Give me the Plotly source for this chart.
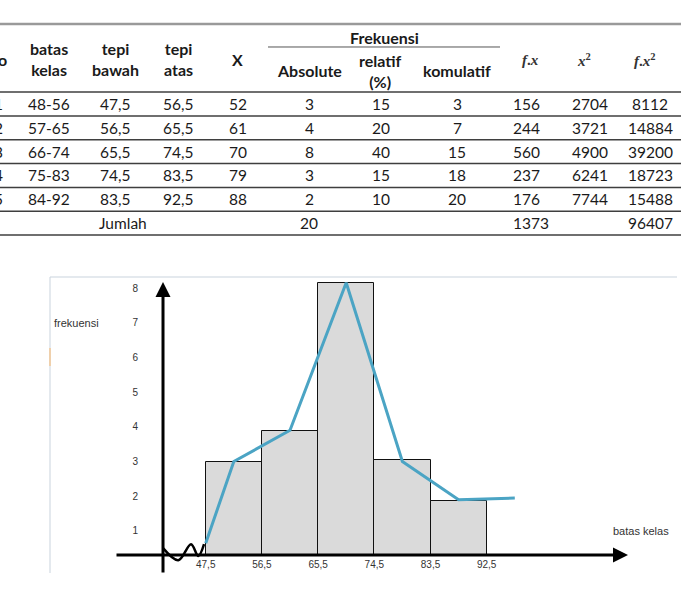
import plotly.graph_objects as go

# ---------------- table data ----------------
no = [1, 2, 3, 4, 5]
batas_kelas = ["48-56", "57-65", "66-74", "75-83", "84-92"]
tepi_bawah = [47.5, 56.5, 65.5, 74.5, 83.5]
tepi_atas = [56.5, 65.5, 74.5, 83.5, 92.5]
nilai_x = [52, 61, 70, 79, 88]
f_absolute = [3, 4, 8, 3, 2]
f_relatif = [15, 20, 40, 15, 10]
f_komulatif = [3, 7, 15, 18, 20]
f_x = [156, 244, 560, 237, 176]
x_kuadrat = [2704, 3721, 4900, 6241, 7744]
f_x_kuadrat = [8112, 14884, 39200, 18723, 15488]
jumlah_label = "Jumlah"
jumlah_absolute = 20
jumlah_fx = 1373
jumlah_fx2 = 96407

# ---------------- histogram / polygon as drawn ----------------
hist_heights = [3.0, 3.88, 8.14, 3.05, 1.86]
poly_x = [47.5, 52, 61, 70, 79, 88, 97]
poly_y = [0.65, 3.0, 3.9, 8.15, 3.0, 1.9, 1.95]
y_tick_vals = [1, 2, 3, 4, 5, 6, 7, 8]
break_x = [40.71, 43.11, 45.15, 46.31, 47.23]
break_y = [0.50, 0.16, 0.62, 0.28, 0.62]


def koma(v):
    return ("%g" % v).replace(".", ",")


W, H = 690, 601
TXT = "#1a1a1a"
FONT = "Lato"
MATH = "Liberation Serif"

annotations = []
shapes = []


def cell(x, k, text, bold=False, size=15.5, xanchor="center", family=FONT, color=TXT):
    if bold:
        text = "<b>" + text + "</b>"
    annotations.append(dict(xref="x2", yref="y2", x=x, y=k, text=text, showarrow=False,
                            xanchor=xanchor, yanchor="middle",
                            font=dict(family=family, size=size, color=color)))


# data columns: (values, x, anchor)
columns = [
    ([str(v) for v in no], 5, "right"),
    (batas_kelas, 48.5, "center"),
    ([koma(v) for v in tepi_bawah], 115, "center"),
    ([koma(v) for v in tepi_atas], 178, "center"),
    ([str(v) for v in nilai_x], 238, "center"),
    ([str(v) for v in f_absolute], 309, "center"),
    ([str(v) for v in f_relatif], 381, "center"),
    ([str(v) for v in f_komulatif], 457, "center"),
    ([str(v) for v in f_x], 511, "left"),
    ([str(v) for v in x_kuadrat], 590, "center"),
    ([str(v) for v in f_x_kuadrat], 650, "center"),
]
for vals, cx, anc in columns:
    for k, v in enumerate(vals):
        cell(cx, k, v, xanchor=anc)

kj = len(no)
cell(123, kj, jumlah_label)
cell(309, kj, str(jumlah_absolute))
cell(511, kj, str(jumlah_fx), xanchor="left")
cell(650, kj, str(jumlah_fx2))

# headers
HS = 16
cell(9, -1.888, "No", bold=True, size=HS, xanchor="right")
cell(49, -1.888, "batas<br>kelas", bold=True, size=HS)
cell(115.5, -1.888, "tepi<br>bawah", bold=True, size=HS)
cell(178, -1.888, "tepi<br>atas", bold=True, size=HS)
cell(237, -1.888, "X", bold=True, size=HS)
cell(384, -2.81, "Frekuensi", bold=True, size=HS)
cell(309, -1.385, "Absolute", bold=True, size=HS)
cell(380, -1.37, "relatif<br>(%)", bold=True, size=HS)
cell(456.6, -1.385, "komulatif", bold=True, size=HS)
cell(530, -1.85, "<b><i>f</i>.<i>x</i></b>", size=15, family=MATH, color="#333")
cell(584, -1.85, "<b><i>x</i><sup>2</sup></b>", size=15, family=MATH, color="#333")
cell(645, -1.85, "<b><i>f</i>.<i>x</i><sup>2</sup></b>", size=15, family=MATH, color="#333")

# table rules
shapes.append(dict(type="line", xref="x2", yref="y2", x0=0, x1=681, y0=-3.357, y1=-3.357,
                   line=dict(color="#9a9a9a", width=2.5)))
shapes.append(dict(type="line", xref="x2", yref="y2", x0=268, x1=500, y0=-2.392, y1=-2.392,
                   line=dict(color="#555", width=1)))
for k in range(-1, kj + 1):
    shapes.append(dict(type="line", xref="x2", yref="y2", x0=0, x1=681, y0=k + 0.5, y1=k + 0.5,
                       line=dict(color="#3f3f3f", width=1.5)))

# ---------------- chart ----------------
axis_base = 0.32
mids = [(a + b) / 2 for a, b in zip(tepi_bawah, tepi_atas)]
widths = [b - a for a, b in zip(tepi_bawah, tepi_atas)]

fig = go.Figure()
fig.add_trace(go.Bar(x=mids, y=[h - axis_base for h in hist_heights], base=axis_base, width=widths,
                     marker=dict(color="#dadada", line=dict(color="#111", width=1)),
                     showlegend=False, hoverinfo="skip"))
fig.add_trace(go.Scatter(x=poly_x, y=poly_y, mode="lines",
                         line=dict(color="#4ba4c4", width=3), showlegend=False))
fig.add_trace(go.Scatter(x=break_x, y=break_y, mode="lines", line=dict(color="black", width=2.5, shape="spline"),
                         showlegend=False))

x_lo, x_hi = 22.56, 122.98
y_lo, y_hi = -0.70, 8.317

# axis arrows
annotations.append(dict(xref="x", yref="y", axref="x", ayref="y", x=115.13, y=0.308, ax=32.97, ay=0.308,
                        text="", showarrow=True, arrowhead=2, arrowsize=1, arrowwidth=3, arrowcolor="black",
                        standoff=0, startstandoff=0))
annotations.append(dict(xref="x", yref="y", axref="x", ayref="y", x=40.66, y=8.17, ax=40.66, ay=-0.24,
                        text="", showarrow=True, arrowhead=2, arrowsize=1, arrowwidth=3, arrowcolor="black",
                        standoff=0, startstandoff=0))

annotations.append(dict(xref="paper", yref="paper", x=52 / W, y=1 - 323 / H, text="frekuensi",
                        showarrow=False, xanchor="left", yanchor="middle",
                        font=dict(family="Liberation Sans", size=11, color="#333")))
annotations.append(dict(xref="paper", yref="paper", x=611 / W, y=1 - 531 / H, text="batas kelas",
                        showarrow=False, xanchor="left", yanchor="middle",
                        font=dict(family="Liberation Sans", size=11, color="#333")))
annotations.append(dict(xref="paper", yref="paper", x=230 / W, y=1 - 607.5 / H,
                        text="Gambar 3. Histogram dan Poligon X",
                        showarrow=False, xanchor="left", yanchor="middle",
                        font=dict(family="Liberation Serif", size=18, color="#666")))

# frame of the embedded picture
shapes.append(dict(type="line", xref="paper", yref="paper", x0=50 / W, x1=677 / W, y0=1 - 277 / H, y1=1 - 277 / H,
                   line=dict(color="#c9d3dd", width=1)))
shapes.append(dict(type="line", xref="paper", yref="paper", x0=50 / W, x1=50 / W, y0=1 - 277 / H, y1=1 - 573 / H,
                   line=dict(color="#c9d3dd", width=1)))
shapes.append(dict(type="line", xref="paper", yref="paper", x0=50 / W, x1=50 / W, y0=1 - 348 / H, y1=1 - 366 / H,
                   line=dict(color="#f3c796", width=1.5)))

fig.update_layout(
    width=W, height=H, margin=dict(l=0, r=0, t=0, b=0),
    paper_bgcolor="white", plot_bgcolor="rgba(0,0,0,0)",
    bargap=0,
    xaxis=dict(domain=[50 / W, 677 / W], range=[x_lo, x_hi], anchor="free", position=1 - 557 / H,
               tickvals=tepi_bawah + [tepi_atas[-1]], ticktext=[koma(v) for v in tepi_bawah + [tepi_atas[-1]]],
               showgrid=False, zeroline=False, showline=False, ticks="",
               tickfont=dict(family="Liberation Sans", size=10, color="#333")),
    yaxis=dict(domain=[1 - 590 / H, 1 - 277 / H], range=[y_lo, y_hi], anchor="free", position=138 / W,
               tickvals=y_tick_vals, ticktext=[str(v) for v in y_tick_vals],
               showgrid=False, zeroline=False, showline=False, ticks="",
               tickfont=dict(family="Liberation Sans", size=10, color="#333")),
    xaxis2=dict(domain=[0, 1], range=[0, W], anchor="y2", visible=False),
    yaxis2=dict(domain=[1 - 250 / H, 1], range=[6.127, -4.364], anchor="x2", visible=False),
    annotations=annotations, shapes=shapes,
)

fig.write_html("out.html")
